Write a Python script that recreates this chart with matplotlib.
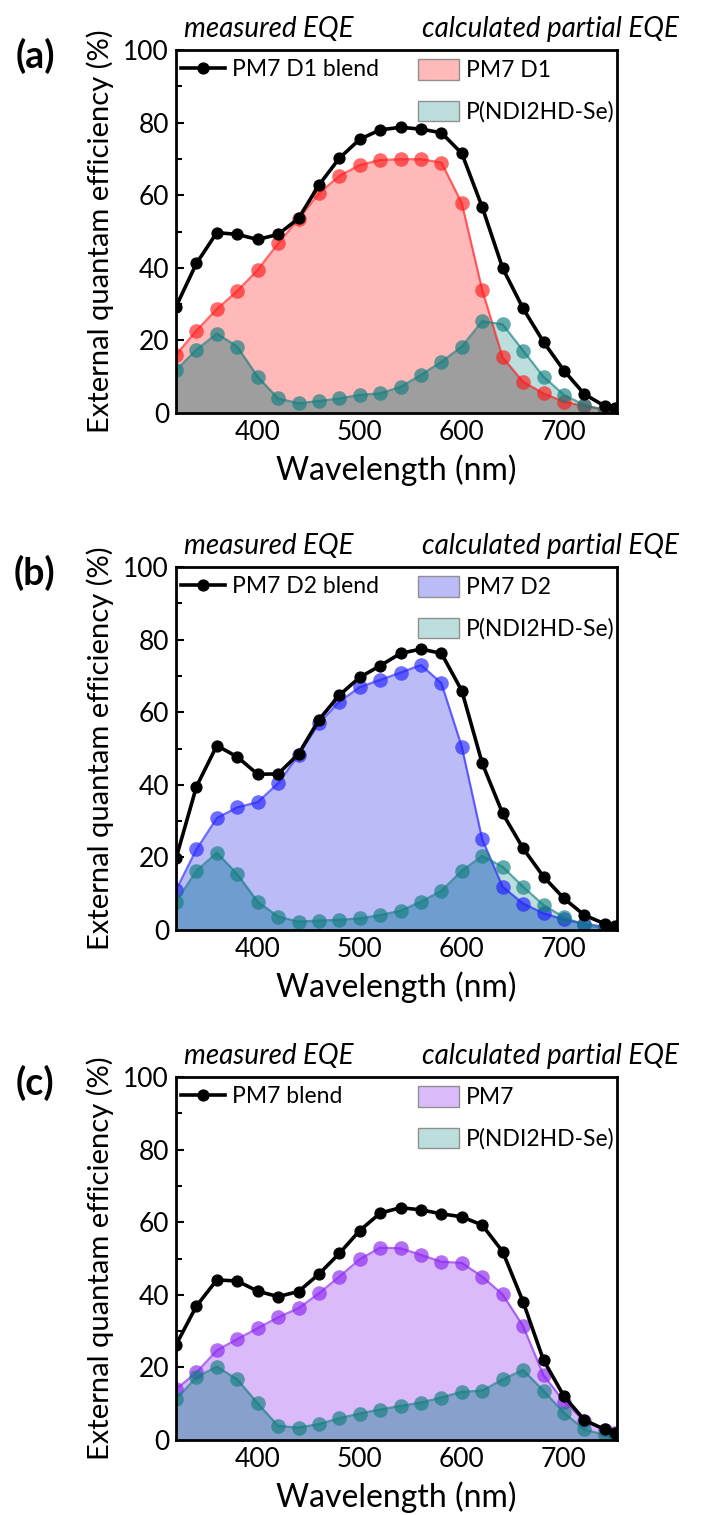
import numpy as np
import matplotlib
matplotlib.use('Agg')
from matplotlib import pyplot as plt
from matplotlib.lines import Line2D
from matplotlib.patches import Patch

plt.rcParams['font.family'] = ['Lato', 'DejaVu Sans']

# wavelength grid (nm)
wl = [320, 340, 360, 380, 400, 420, 440, 460, 480, 500, 520, 540,
      560, 580, 600, 620, 640, 660, 680, 700, 720, 740, 750]

# (a) PM7 D1
a_blend = [29.3, 41.2, 49.7, 49.2, 47.8, 49.2, 53.6, 62.8, 70.2, 75.4, 78.0, 78.7,
           78.2, 77.2, 71.5, 56.7, 39.9, 28.8, 19.6, 11.7, 5.2, 1.9, 1.5]
a_donor = [16.0, 22.7, 28.6, 33.6, 39.4, 46.7, 53.4, 60.5, 65.3, 68.3, 69.7, 69.9,
           69.9, 69.0, 57.8, 33.9, 15.3, 8.6, 5.4, 3.1, 1.9, 1.0, 0.8]
a_acc = [11.8, 17.4, 21.9, 18.3, 10.0, 4.0, 2.7, 3.3, 4.0, 5.0, 5.4, 7.2,
         10.5, 14.1, 18.3, 25.3, 24.4, 17.2, 10.0, 5.0, 2.2, 0.8, 0.5]

# (b) PM7 D2
b_blend = [19.7, 39.5, 50.8, 47.7, 42.9, 43.0, 48.5, 57.9, 64.7, 69.6, 72.8, 76.2,
           77.4, 76.2, 65.9, 45.9, 32.1, 22.5, 14.7, 8.7, 4.1, 1.7, 1.2]
b_donor = [11.0, 22.2, 30.8, 33.8, 35.2, 40.4, 48.2, 56.9, 62.9, 66.9, 68.9, 70.9,
           73.0, 68.0, 50.5, 25.0, 11.9, 7.3, 4.6, 2.9, 1.7, 0.9, 0.6]
b_acc = [7.8, 16.3, 21.3, 15.4, 7.8, 3.7, 2.3, 2.6, 2.8, 3.2, 4.1, 5.3,
         7.8, 10.8, 16.3, 20.4, 17.4, 11.9, 6.9, 3.5, 1.4, 0.5, 0.3]

# (c) PM7
c_blend = [26.2, 36.9, 44.1, 43.8, 41.0, 39.5, 40.9, 45.7, 51.4, 57.7, 62.5, 64.0,
           63.4, 62.3, 61.5, 59.2, 51.9, 38.1, 22.0, 12.1, 5.5, 2.9, 2.0]
c_donor = [14.0, 18.6, 24.7, 27.8, 30.8, 33.8, 36.3, 40.4, 45.0, 49.8, 53.0, 52.8,
           51.0, 49.1, 48.8, 45.0, 40.1, 31.4, 17.9, 10.6, 5.3, 2.8, 2.0]
c_acc = [11.2, 17.3, 20.2, 16.7, 10.1, 3.9, 3.4, 4.4, 6.0, 7.3, 8.4, 9.4,
         10.3, 11.7, 13.3, 13.6, 16.7, 19.3, 13.6, 7.5, 2.9, 1.4, 0.8]

panels = [
    ('(a)', 'PM7 D1 blend', 'PM7 D1', a_blend, a_donor, a_acc,
     '#ff1a1a', '#ffb9b9', '#9e9e9e'),
    ('(b)', 'PM7 D2 blend', 'PM7 D2', b_blend, b_donor, b_acc,
     '#2020ff', '#bbbbf8', '#6f9dcf'),
    ('(c)', 'PM7 blend', 'PM7', c_blend, c_donor, c_acc,
     '#8a24f0', '#dbbafa', '#88a1cc'),
]
acc_label = 'P(NDI2HD-Se)'
acc_line = '#107e80'
acc_fill = '#bcdfde'

W, H = 708, 1515
fig = plt.figure(figsize=(W / 100, H / 100), dpi=100)
tops = [50, 567, 1077]
ax_l, ax_w, ax_h = 176, 441, 363

for (tag, blend_lab, don_lab, blend, donor, acc, dcol, dfill, ovcol), top in zip(panels, tops):
    ax = fig.add_axes([ax_l / W, 1 - (top + ax_h) / H, ax_w / W, ax_h / H])
    x = np.array(wl)

    # partial EQE areas; the overlap gets its own mixed colour
    ax.fill_between(x, 0, acc, color=acc_fill, lw=0, zorder=1)
    dpoly = ax.fill_between(x, 0, donor, color=dfill, lw=0, zorder=2)
    ov = ax.fill_between(x, 0, acc, color=ovcol, lw=0, zorder=3)
    ov.set_clip_path(dpoly.get_paths()[0], ax.transData)

    ax.plot(x, donor, '-o', color=dcol, lw=1.6, ms=10.5, mew=0, alpha=0.65, zorder=4)
    ax.plot(x, acc, '-o', color=acc_line, lw=1.6, ms=10.5, mew=0, alpha=0.65, zorder=5)
    ax.plot(x, blend, '-o', color='black', lw=2.6, ms=7.8, zorder=6)

    ax.set_xlim(320, 752)
    ax.set_ylim(0, 100)
    ax.set_xticks([400, 500, 600, 700])
    ax.set_xticks([350, 450, 550, 650, 750], minor=True)
    ax.set_yticks([0, 20, 40, 60, 80, 100])
    ax.set_yticks([10, 30, 50, 70, 90], minor=True)
    ax.tick_params(which='both', direction='in', width=1.5, labelsize=19, pad=5)
    ax.tick_params(which='major', length=6)
    ax.tick_params(which='minor', length=4)
    for s in ax.spines.values():
        s.set_linewidth(2)
        s.set_zorder(10)
    ax.set_xlabel('Wavelength (nm)', fontsize=23, labelpad=7)
    ax.set_ylabel('External quantam efficiency (%)', fontsize=21, labelpad=7)

    ax.text(-0.32, 0.985, tag, transform=ax.transAxes, fontsize=27,
            fontweight='bold', ha='center', va='center')
    ax.text(0.211, 1.057, 'measured EQE', transform=ax.transAxes, fontsize=20,
            style='italic', ha='center', va='center')
    ax.text(0.848, 1.057, 'calculated partial EQE', transform=ax.transAxes,
            fontsize=20, style='italic', ha='center', va='center')

    h1 = [Line2D([], [], color='black', lw=2.6, marker='o', ms=7.8)]
    leg1 = ax.legend(h1, [blend_lab], loc='upper left', bbox_to_anchor=(0.012, 0.975),
                     frameon=False, fontsize=16.5, borderpad=0, borderaxespad=0,
                     handlelength=1.9, handletextpad=0.3)
    ax.add_artist(leg1)
    h2 = [Patch(facecolor=dfill, edgecolor='#909090', lw=1),
          Patch(facecolor=acc_fill, edgecolor='#909090', lw=1)]
    ax.legend(h2, [don_lab, acc_label], loc='upper left', bbox_to_anchor=(0.549, 0.975),
              frameon=False, fontsize=16.5, borderpad=0, borderaxespad=0,
              handlelength=1.8, handleheight=1.0, handletextpad=0.3, labelspacing=0.85)

fig.savefig('out.png', dpi=100)
